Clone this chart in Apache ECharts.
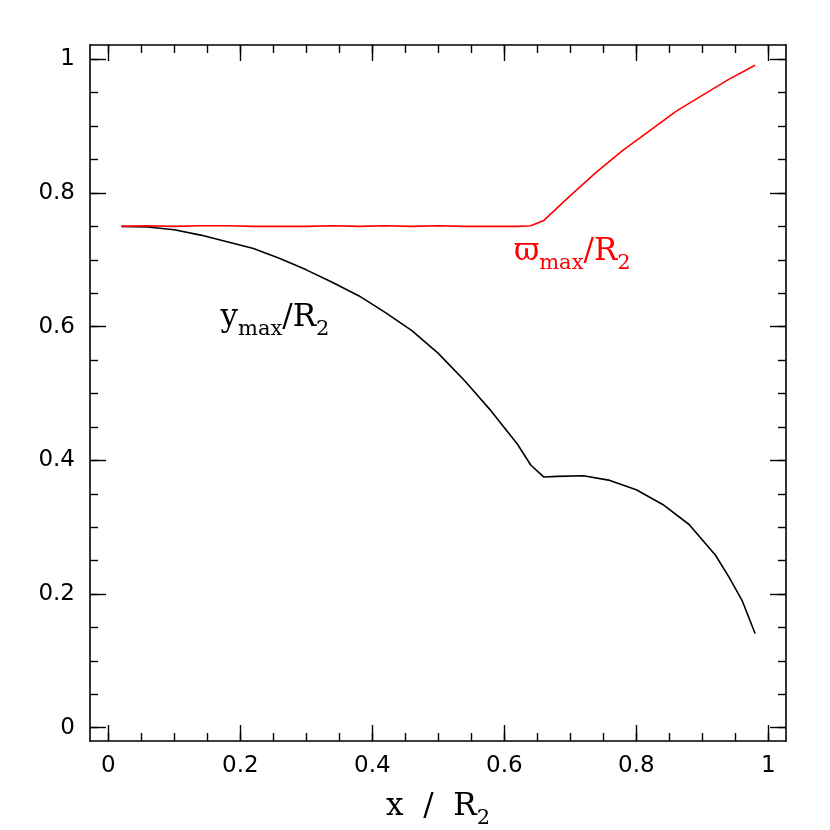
<!DOCTYPE html>
<html>
<head>
<meta charset="utf-8">
<script src="https://cdn.jsdelivr.net/npm/echarts@6/dist/echarts.min.js"></script>
<style>
  html, body { margin: 0; padding: 0; background: #fff; }
  #chart { width: 830px; height: 830px; }
</style>
</head>
<body>
<div id="chart"></div>
<script>
// y_max / R2 (black curve)
const yMaxX = [0.02, 0.06, 0.10, 0.14, 0.18, 0.22, 0.26, 0.30, 0.34, 0.38, 0.42, 0.46, 0.50, 0.54, 0.58, 0.62, 0.64, 0.66, 0.68, 0.72, 0.76, 0.80, 0.84, 0.88, 0.92, 0.94, 0.96, 0.98]
const yMaxY = [0.750, 0.749, 0.745, 0.737, 0.727, 0.717, 0.702, 0.685, 0.666, 0.646, 0.621, 0.594, 0.560, 0.519, 0.474, 0.424, 0.393, 0.375, 0.376, 0.377, 0.370, 0.356, 0.334, 0.304, 0.258, 0.226, 0.191, 0.141]

// varpi_max / R2 (red curve)
const varpiX = [0.02, 0.06, 0.10, 0.14, 0.18, 0.22, 0.26, 0.30, 0.34, 0.38, 0.42, 0.46, 0.50, 0.54, 0.58, 0.62, 0.64, 0.66, 0.70, 0.74, 0.78, 0.82, 0.86, 0.90, 0.94, 0.98]
const varpiY = [0.750, 0.751, 0.750, 0.751, 0.751, 0.750, 0.750, 0.750, 0.751, 0.750, 0.751, 0.750, 0.751, 0.750, 0.750, 0.750, 0.751, 0.759, 0.796, 0.8315, 0.864, 0.893, 0.922, 0.946, 0.970, 0.991]

const majorTicks = [0, 0.2, 0.4, 0.6, 0.8, 1]
const minorTicks = [0, 0.05, 0.1, 0.15, 0.2, 0.25, 0.3, 0.35, 0.4, 0.45, 0.5, 0.55, 0.6, 0.65, 0.7, 0.75, 0.8, 0.85, 0.9, 0.95, 1]

const xRange = [-0.0277, 1.0268]
const yRange = [-0.0199, 1.0214]

const lineCol = '#000'
const serif = 'DejaVu Serif'

// one axis = one set of ticks on one side of the frame
const makeAxis = (type, position, ticks, len, withLabel) => {
  const range = type === 'x' ? xRange : yRange
  return {
    type: 'value',
    gridIndex: 0,
    position: position,
    min: range[0],
    max: range[1],
    axisLine: { show: withLabel, onZero: false, lineStyle: { color: lineCol, width: 1.6 } },
    axisTick: { show: true, inside: true, length: len, customValues: ticks, lineStyle: { color: lineCol, width: 1.4 } },
    axisLabel: {
      show: withLabel && (position === 'bottom' || position === 'left'),
      customValues: ticks,
      margin: type === 'x' ? 14 : 15,
      color: '#000',
      fontFamily: 'DejaVu Sans',
      fontSize: 23
    },
    splitLine: { show: false }
  }
}

const subRich = (color) => ({
  m: { fontFamily: serif, fontSize: 31, color: color, lineHeight: 32, verticalAlign: 'top' },
  s: { fontFamily: serif, fontSize: 21, color: color, lineHeight: 21, verticalAlign: 'top', padding: [17, 0, 0, 0] }
})

const chart = echarts.init(document.getElementById('chart'))

const option = {
  backgroundColor: '#fff',
  animation: false,
  grid: { left: 90, right: 44, top: 45, bottom: 89, containLabel: false, outerBoundsMode: 'none' },
  xAxis: [
    Object.assign(makeAxis('x', 'bottom', majorTicks, 16, true), {
      name: '{m|x  /  R}{s|2}',
      nameLocation: 'middle',
      nameGap: 50,
      nameTextStyle: { rich: subRich('#000') }
    }),
    makeAxis('x', 'bottom', minorTicks, 8, false),
    makeAxis('x', 'top', majorTicks, 16, true),
    makeAxis('x', 'top', minorTicks, 8, false)
  ],
  yAxis: [
    makeAxis('y', 'left', majorTicks, 16, true),
    makeAxis('y', 'left', minorTicks, 8, false),
    makeAxis('y', 'right', majorTicks, 16, true),
    makeAxis('y', 'right', minorTicks, 8, false)
  ],
  series: [
    {
      name: 'ymax',
      type: 'line',
      xAxisIndex: 0,
      yAxisIndex: 0,
      data: yMaxX.map((x, i) => [x, yMaxY[i]]),
      showSymbol: false,
      lineStyle: { color: '#000', width: 1.6 },
      markPoint: {
        symbolSize: 0,
        label: {
          show: true,
          formatter: '{m|y}{s|max}{m|/R}{s|2}',
          rich: subRich('#000')
        },
        data: [{ coord: [0.2526, 0.613] }]
      }
    },
    {
      name: 'varpimax',
      type: 'line',
      xAxisIndex: 0,
      yAxisIndex: 0,
      data: varpiX.map((x, i) => [x, varpiY[i]]),
      showSymbol: false,
      lineStyle: { color: '#ff0000', width: 1.6 },
      markPoint: {
        symbolSize: 0,
        label: {
          show: true,
          formatter: '{m|ϖ}{s|max}{m|/R}{s|2}',
          rich: subRich('#ff0000')
        },
        data: [{ coord: [0.703, 0.711] }]
      }
    }
  ]
}

chart.setOption(option)
</script>
</body>
</html>
